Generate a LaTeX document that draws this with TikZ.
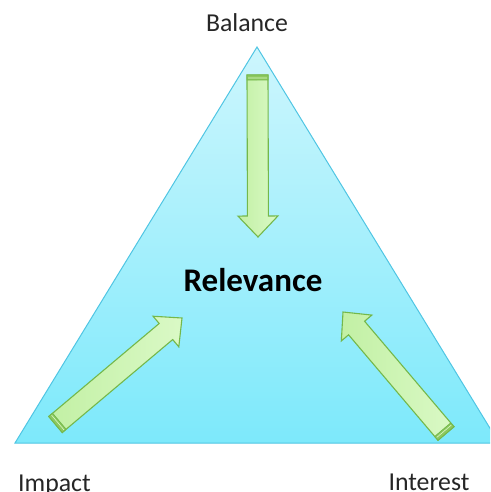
\documentclass[tikz,border=0pt]{standalone}
\usepackage{fontspec}
\setmainfont{Carlito}
\usetikzlibrary{calc}
\definecolor{triTop}{HTML}{CDF6FD}
\definecolor{triBot}{HTML}{7DE9FB}
\definecolor{triLine}{HTML}{4FC5E3}
\definecolor{arrA}{HTML}{C2F0A4}
\definecolor{arrB}{HTML}{DAF9C6}
\definecolor{arrLine}{HTML}{74B84A}
\definecolor{arrBand}{HTML}{8CC860}
\tikzset{
  lbl/.style={anchor=base, inner sep=0pt, font=\fontsize{25.8}{30}\selectfont, text=black!85},
  centrelbl/.style={anchor=base, inner sep=0pt, font=\fontsize{33}{38}\selectfont\bfseries},
  arrowbody/.style={draw=arrLine, line width=1.1pt, line join=miter, left color=arrA, right color=arrB},
  arrowband/.style={draw=arrLine, line width=0.8pt, fill=arrBand}
}
\newcommand{\greenarrow}[2]{%
  \path[arrowbody]
    ($(#1)!10.5pt!90:(#2)$) --
    ($($(#2)!21pt!(#1)$)!10.5pt!90:(#2)$) --
    ($($(#2)!21pt!(#1)$)!20pt!90:(#2)$) --
    (#2) --
    ($($(#2)!21pt!(#1)$)!20pt!-90:(#2)$) --
    ($($(#2)!21pt!(#1)$)!10.5pt!-90:(#2)$) --
    ($(#1)!10.5pt!-90:(#2)$) -- cycle;
  \path[arrowband]
    ($(#1)!10.5pt!90:(#2)$) --
    ($($(#1)!5pt!(#2)$)!10.5pt!90:(#2)$) --
    ($($(#1)!5pt!(#2)$)!10.5pt!-90:(#2)$) --
    ($(#1)!10.5pt!-90:(#2)$) -- cycle;
  \draw[draw=arrB, line width=0.6pt]
    ($($(#1)!3pt!(#2)$)!9.5pt!90:(#2)$) --
    ($($(#1)!3pt!(#2)$)!9.5pt!-90:(#2)$);
}
\begin{document}
\begin{tikzpicture}[x=1pt,y=-1pt]
\useasboundingbox (0,0) rectangle (490,492);
\clip (0,0) rectangle (490,492);
\coordinate (apex) at (257,47);
\coordinate (left) at (15,443);
\coordinate (right) at (499,443);
\path[draw=triLine, line width=1pt, top color=triTop, bottom color=triBot]
  (apex) -- (left) -- (right) -- cycle;
% arrows
\coordinate (t1) at (257.5,75);
\coordinate (p1) at (258,237);
\coordinate (t2) at (55.5,424.5);
\coordinate (p2) at (182,318);
\coordinate (t3) at (446,433.5);
\coordinate (p3) at (343,312);
\greenarrow{t1}{p1}
\greenarrow{t2}{p2}
\greenarrow{t3}{p3}
% labels
\node[lbl] (balance) at (247,32) {Balance};
\node[lbl] (impact) at (54.5,491) {Impact};
\node[lbl] (interest) at (429,490) {Interest};
\node[centrelbl] (relevance) at (253,291) {Relevance};
\end{tikzpicture}
\end{document}
